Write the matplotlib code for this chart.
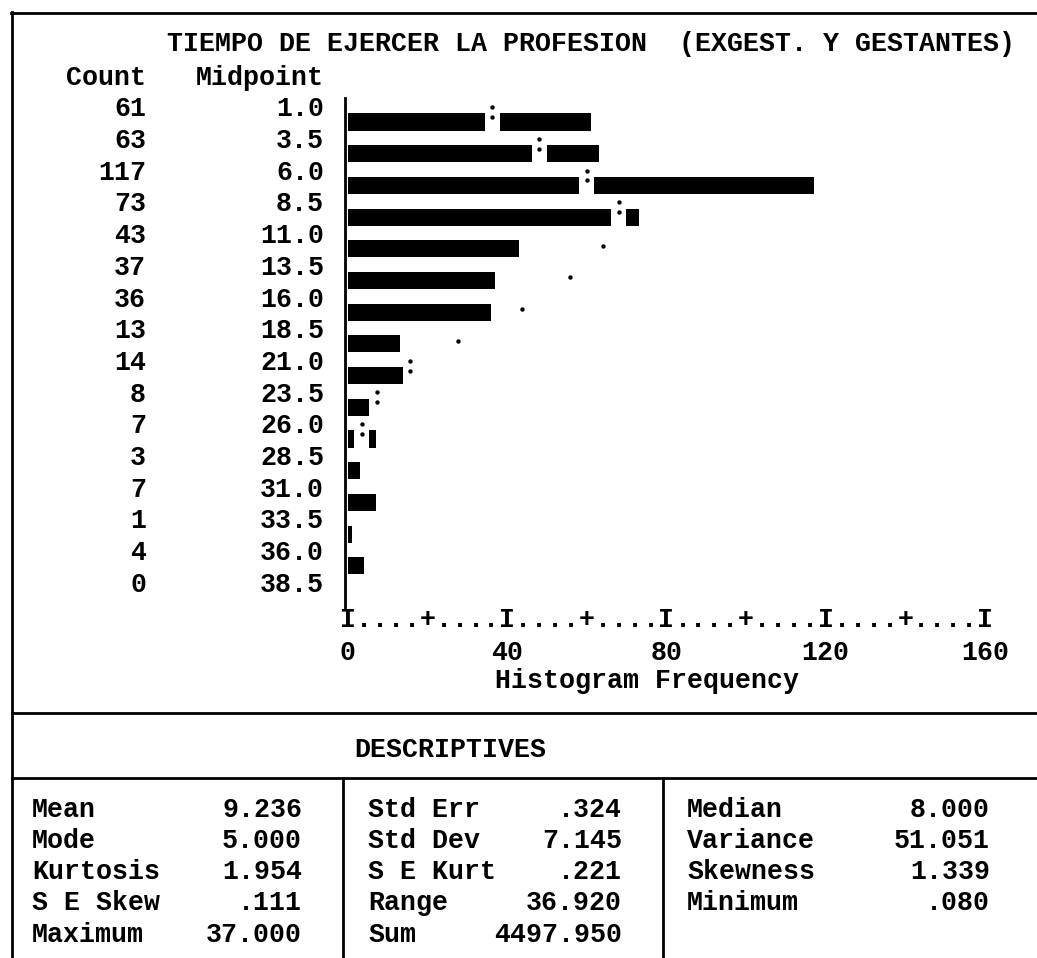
import numpy as np
import matplotlib
matplotlib.use("Agg")
import matplotlib.pyplot as plt
import matplotlib.transforms as mtransforms
from matplotlib.lines import Line2D

# histogram data
counts = [61, 63, 117, 73, 43, 37, 36, 13, 14, 8, 7, 3, 7, 1, 4, 0]
midpoints = [1.0, 3.5, 6.0, 8.5, 11.0, 13.5, 16.0, 18.5, 21.0, 23.5, 26.0, 28.5, 31.0, 33.5, 36.0, 38.5]
# normal curve marks (frequency) for the first rows, and the glyph used
normal_freq = [36.2, 48.0, 60.0, 68.0, 64.0, 55.8, 43.7, 27.6, 15.6, 7.3, 3.5]
normal_glyph = [':', ':', ':', ':', '.', '.', '.', '.', ':', ':', ':']
freq_ticks = [0, 40, 80, 120, 160]

title = "TIEMPO DE EJERCER LA PROFESION  (EXGEST. Y GESTANTES)"

stat_names_1 = ["Mean", "Mode", "Kurtosis", "S E Skew", "Maximum"]
stat_values_1 = ["9.236", "5.000", "1.954", ".111", "37.000"]
stat_names_2 = ["Std Err", "Std Dev", "S E Kurt", "Range", "Sum"]
stat_values_2 = [".324", "7.145", ".221", "36.920", "4497.950"]
stat_names_3 = ["Median", "Variance", "Skewness", "Minimum"]
stat_values_3 = ["8.000", "51.051", "1.339", ".080"]

W, H = 1037, 958
plt.rcParams['font.family'] = ['Liberation Mono', 'DejaVu Sans Mono']
plt.rcParams['font.weight'] = 'bold'
FS = 19.2

fig = plt.figure(figsize=(W / 100, H / 100), dpi=100)
fig.patch.set_facecolor('white')


def fx(x):
    return x / W


def fy(y):
    return 1 - y / H


def hline(y, x0, x1, lw=2.0):
    fig.add_artist(Line2D([fx(x0), fx(x1)], [fy(y), fy(y)], color='black', lw=lw))


def vline(x, y0, y1, lw=2.0):
    fig.add_artist(Line2D([fx(x), fx(x)], [fy(y0), fy(y1)], color='black', lw=lw))


# page frame and table rules
hline(13, 11, W)
vline(12, 12, H)
hline(713, 12, W)
hline(778, 12, W)
vline(343, 778, H)
vline(663, 778, H)

fig.text(fx(167), fy(44), title, ha='left', va='center', fontsize=FS)
fig.text(fx(146), fy(78), "Count", ha='right', va='center', fontsize=FS)
fig.text(fx(324), fy(78), "Midpoint", ha='right', va='center', fontsize=FS)

# histogram
ax = fig.add_axes([fx(345), fy(608), (985 - 345) / W, (608 - 98) / H])
ax.set_xlim(-0.75, 160)
ax.set_ylim(15.33, -0.757)
rows = np.arange(len(counts))
ax.barh(rows, counts, height=0.54, color='black', zorder=2)

colon_rows = [i for i, g in enumerate(normal_glyph) if g == ':']
dot_rows = [i for i, g in enumerate(normal_glyph) if g == '.']
colon_x = np.array([normal_freq[i] for i in colon_rows])
colon_y = np.array(colon_rows, dtype=float)
# the curve glyph replaces the bar character under it
ax.barh(colon_y, 3.8, left=colon_x - 1.9, height=0.66, color='white', zorder=3)
ax.scatter(np.r_[colon_x, colon_x], np.r_[colon_y - 0.47, colon_y - 0.16],
           s=10, color='black', linewidths=0, zorder=4)
ax.scatter([normal_freq[i] for i in dot_rows], [i - 0.1 for i in dot_rows],
           s=10, color='black', linewidths=0, zorder=4)

for s in ['top', 'right', 'bottom']:
    ax.spines[s].set_visible(False)
ax.spines['left'].set_linewidth(2)
ax.set_yticks([])
ax.set_xticks(freq_ticks, labels=[str(t) for t in freq_ticks])
ax.tick_params(axis='x', length=0, pad=23, labelsize=FS)

# character-style axis line  I....+....I
xtr = ax.get_xaxis_transform()
for v in range(0, 161, 4):
    g = 'I' if v % 40 == 0 else ('+' if v % 20 == 0 else '.')
    ax.text(v, -0.0235, g, transform=xtr, ha='center', va='center', fontsize=FS, clip_on=False)

fig.text(fx(495), fy(681), "Histogram Frequency", ha='left', va='center', fontsize=FS)

# count / midpoint columns, aligned with the bar rows
lab_tr = mtransforms.blended_transform_factory(fig.transFigure, ax.transData)
for i in rows:
    ax.text(fx(146), i - 0.4, str(counts[i]), transform=lab_tr, ha='right', va='center', fontsize=FS)
    ax.text(fx(324), i - 0.4, f"{midpoints[i]:.1f}", transform=lab_tr, ha='right', va='center', fontsize=FS)

# descriptives table
fig.text(fx(450), fy(750), "DESCRIPTIVES", ha='center', va='center', fontsize=FS)
row_y = [810, 841, 872, 903, 935]
for names, vals, xl, xr in [(stat_names_1, stat_values_1, 32, 302),
                            (stat_names_2, stat_values_2, 368, 622),
                            (stat_names_3, stat_values_3, 687, 990)]:
    for n, v, y in zip(names, vals, row_y):
        fig.text(fx(xl), fy(y), n, ha='left', va='center', fontsize=FS)
        fig.text(fx(xr), fy(y), v, ha='right', va='center', fontsize=FS)

fig.savefig('out.png', dpi=100)
